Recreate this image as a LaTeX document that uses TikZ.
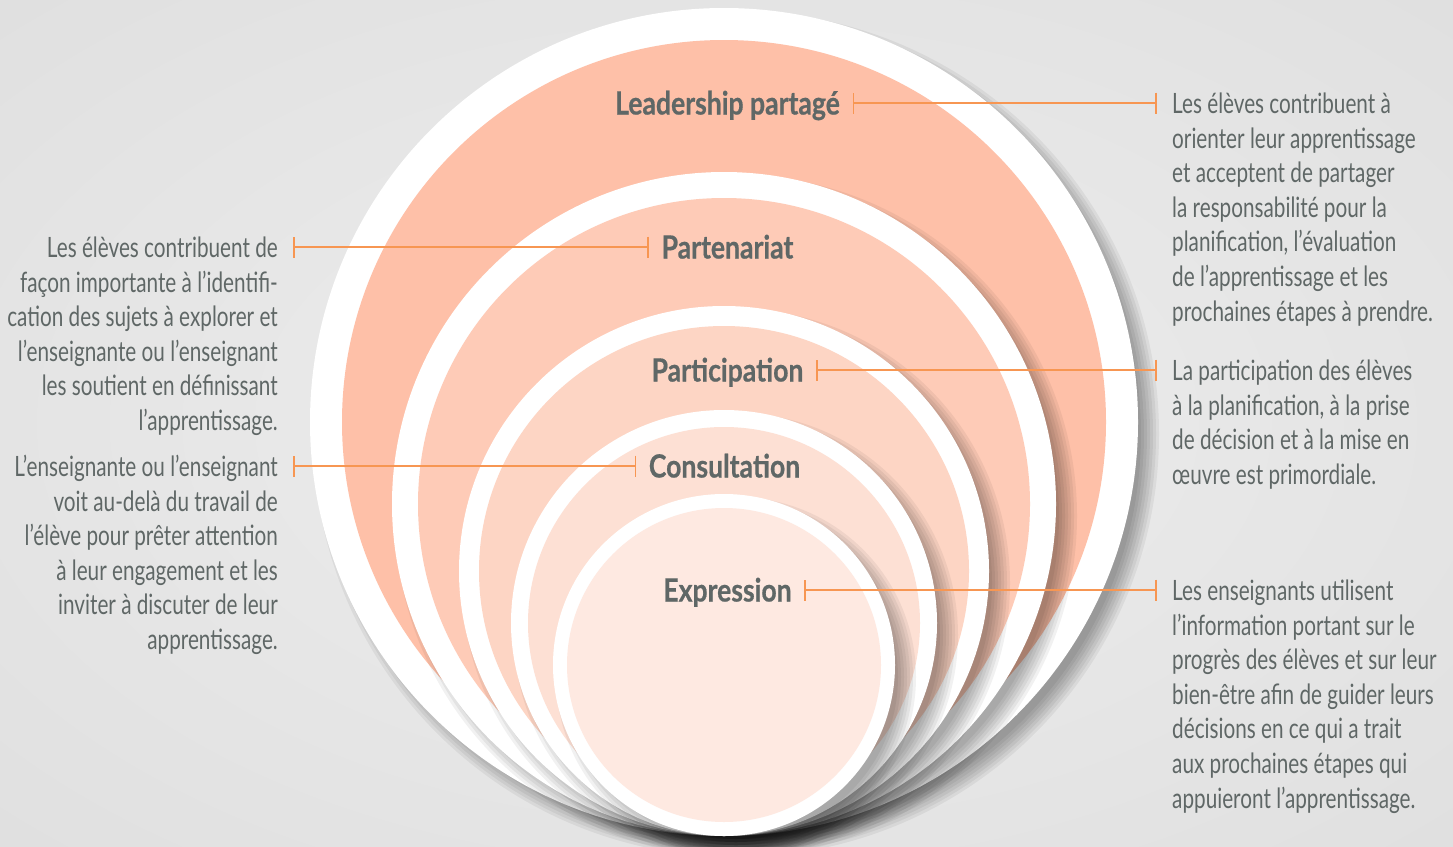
\documentclass[tikz,border=0pt]{standalone}
\usepackage{fontspec}
\newfontfamily\bodyfont{Lato}[FakeStretch=0.74]
\newfontfamily\labfont{Lato}[FakeStretch=0.83, BoldFeatures={FakeBold=0.6}]
\usetikzlibrary{arrows.meta}
\definecolor{bgin}{RGB}{232,232,232}
\definecolor{bgout}{RGB}{208,208,208}
\definecolor{txt}{RGB}{95,103,102}
\definecolor{conn}{RGB}{247,150,82}
\definecolor{or1}{RGB}{254,192,168}
\definecolor{or2}{RGB}{254,203,183}
\definecolor{or3}{RGB}{253,213,196}
\definecolor{or4}{RGB}{253,224,212}
\definecolor{or5}{RGB}{254,233,225}
\pgfdeclareradialshading{bgshade}{\pgfpoint{0bp}{0bp}}{color(0bp)=(bgin); color(15bp)=(bgin); color(75bp)=(bgout)}
\begin{document}
\begin{tikzpicture}[x=1pt,y=-1pt,
  lab/.style={font=\labfont\bfseries\fontsize{32}{34}\selectfont, text=txt, inner xsep=12.5pt, inner ysep=0pt, text height=23pt, text depth=0pt},
  desc/.style={font=\bodyfont\fontsize{28}{34.6}\selectfont, text=txt, inner xsep=15pt, inner ysep=0pt},
  link/.style={draw=conn, line width=1.6pt, arrows={Bar[width=21pt]-Bar[width=21pt]}},
  shadowlayer/.style={fill=black, opacity=0.055}
]
\shade[shading=bgshade] (0,0) rectangle (1453,846);
\useasboundingbox (0,0) rectangle (1453,846);

\foreach \cy/\rw/\ro/\col in {422/414/382/or1, 504/332/306/or2, 571/265/245/or3, 623/213/196/or4, 665/171/157/or5}{
  \foreach \k in {0,...,6}{
    \fill[shadowlayer] (736,\cy+12) circle[radius={(\rw-9+3*\k)*1pt}];
  }
  \fill[white] (724,\cy) circle[radius={\rw*1pt}];
  \fill[\col] (724,\cy) circle[radius={\ro*1pt}];
}

\node[lab] (lead) at (727.5,103) {Leadership partagé};
\node[lab] (part) at (727.5,247) {Partenariat};
\node[lab] (parti) at (727.5,370) {Participation};
\node[lab] (cons) at (724.5,466) {Consultation};
\node[lab] (expr) at (727.5,590) {Expression};

\node[desc, anchor=north west, align=left] (t1) at (1157,89.1) {\strut Les élèves contribuent à\\orienter leur apprentissage\\et acceptent de partager\\la responsabilité pour la\\planification, l’évaluation\\de l’apprentissage et les\\prochaines étapes à prendre.};
\node[desc, anchor=north west, align=left] (t2) at (1157,356.1) {\strut La participation des élèves\\à la planification, à la prise\\de décision et à la mise en\\œuvre est primordiale.};
\node[desc, anchor=north west, align=left] (t3) at (1157,576.1) {\strut Les enseignants utilisent\\l’information portant sur le\\progrès des élèves et sur leur\\bien-être afin de guider leurs\\décisions en ce qui a trait\\aux prochaines étapes qui\\appuieront l’apprentissage.};
\node[desc, anchor=north east, align=right] (tA) at (293,233.1) {\strut Les élèves contribuent de\\façon importante à l’identifi-\\cation des sujets à explorer et\\l’enseignante ou l’enseignant\\les soutient en définissant\\l’apprentissage.};
\node[desc, anchor=north east, align=right] (tB) at (293,452.1) {\strut L’enseignante ou l’enseignant\\voit au-delà du travail de\\l’élève pour prêter attention\\à leur engagement et les\\inviter à discuter de leur\\apprentissage.};

\draw[link] (lead.east) -- (lead.east -| t1.west);
\draw[link] (part.west) -- (part.west -| tA.east);
\draw[link] (parti.east) -- (parti.east -| t2.west);
\draw[link] (cons.west) -- (cons.west -| tB.east);
\draw[link] (expr.east) -- (expr.east -| t3.west);
\end{tikzpicture}
\end{document}
